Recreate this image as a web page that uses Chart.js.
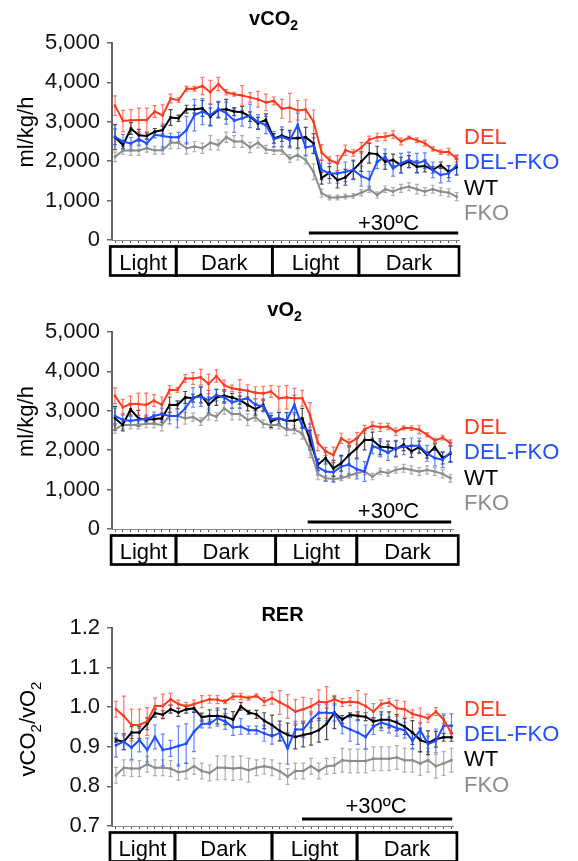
<!DOCTYPE html>
<html>
<head>
<meta charset="utf-8">
<script src="https://cdn.jsdelivr.net/npm/chart.js@4.4.1/dist/chart.umd.min.js"></script>
<style>
  body { margin: 0; background: #fff; }
  canvas { position: absolute; left: 0; }
</style>
</head>
<body>
<canvas id="vco2" width="578" height="290" style="top:0px"></canvas>
<canvas id="vo2" width="578" height="300" style="top:290px"></canvas>
<canvas id="rer" width="578" height="271" style="top:590px"></canvas>
<script>
// groupes et couleurs
const groups = ['DEL', 'DEL-FKO', 'WT', 'FKO'];
const colors = ['#ff3a1f', '#1f4eff', '#000000', '#8c8c8c'];

// périodes lumière / obscurité
const periods = ['Light', 'Dark', 'Light', 'Dark'];

// vCO2 (ml/kg/h)
const vco2DEL = [3410, 3020, 3040, 3045, 3045, 3260, 3160, 3590, 3550, 3840, 3840, 3910, 3750, 3960, 3750, 3700, 3670, 3620, 3570, 3490, 3530, 3330,
  3360, 3290, 3310, 3000, 2220, 2030, 1950, 2280, 2210, 2340, 2550, 2610, 2620, 2670, 2500, 2600, 2530, 2460, 2310, 2230, 2240, 2070];
const vco2DELFKO = [2620, 2500, 2450, 2560, 2450, 2670, 2640, 2610, 2610, 2790, 3170, 3260, 3170, 3320, 3220, 3030, 3090, 3150, 3000, 2920, 2560, 2620,
  2540, 2920, 2350, 2390, 1780, 1690, 1690, 1730, 1780, 1620, 1540, 1990, 2110, 1820, 1950, 2030, 1950, 2010, 1780, 1650, 1690, 1900];
const vco2WT = [2610, 2410, 2830, 2660, 2640, 2750, 2790, 3110, 3090, 3320, 3320, 3340, 3130, 3300, 3320, 3260, 3240, 3130, 2960, 3050, 2580, 2650,
  2580, 2580, 2610, 2450, 1570, 1710, 1520, 1590, 1780, 1990, 2200, 2180, 1990, 2030, 1900, 1990, 1860, 1880, 1780, 1900, 1730, 1850];
const vco2FKO = [2110, 2270, 2270, 2270, 2330, 2280, 2280, 2470, 2470, 2330, 2370, 2330, 2470, 2410, 2610, 2500, 2500, 2350, 2470, 2300, 2270, 2270,
  2070, 2160, 2030, 1730, 1190, 1080, 1080, 1100, 1120, 1200, 1290, 1140, 1290, 1230, 1310, 1350, 1290, 1230, 1290, 1230, 1200, 1100];
const vco2ErrDEL = [250, 270, 270, 300, 300, 150, 270, 110, 60, 60, 60, 220, 300, 170, 70, 50, 250, 120, 200, 210, 100, 240,
  360, 250, 250, 300, 200, 80, 190, 130, 80, 140, 85, 100, 100, 100, 85, 40, 60, 70, 55, 55, 85, 85];
const vco2ErrDELFKO = [200, 180, 150, 150, 120, 80, 300, 100, 120, 350, 400, 330, 280, 200, 280, 300, 200, 300, 180, 220, 200, 250,
  200, 300, 200, 200, 250, 250, 250, 250, 250, 250, 200, 180, 200, 200, 250, 200, 250, 200, 200, 200, 200, 250];
const vco2ErrWT = [320, 100, 150, 150, 80, 80, 100, 200, 80, 100, 100, 200, 220, 200, 250, 100, 150, 120, 150, 150, 120, 150,
  200, 250, 250, 250, 150, 150, 200, 200, 230, 250, 250, 200, 200, 150, 200, 150, 150, 150, 80, 80, 150, 200];
const vco2ErrFKO = [120, 100, 120, 120, 100, 100, 100, 150, 150, 150, 130, 130, 180, 130, 130, 150, 150, 130, 130, 100, 100, 100,
  100, 130, 100, 200, 100, 60, 60, 60, 60, 80, 80, 80, 80, 100, 100, 100, 120, 100, 100, 100, 100, 100];

// vO2 (ml/kg/h)
const vo2DEL = [3380, 3090, 3170, 3170, 3150, 3260, 3150, 3530, 3530, 3820, 3820, 3850, 3680, 3880, 3650, 3570, 3540, 3510, 3460, 3440, 3490, 3320, 3340, 3320,
  3320, 2890, 2190, 1970, 1880, 2300, 2180, 2300, 2530, 2620, 2580, 2600, 2470, 2570, 2560, 2520, 2390, 2250, 2320, 2180];
const vo2DELFKO = [2870, 2770, 2750, 2770, 2790, 2870, 2920, 2870, 2870, 3060, 3340, 3360, 3270, 3400, 3340, 3210, 3270, 3320, 3150, 3120, 2790, 2810, 2760, 3150,
  2600, 2470, 1570, 1460, 1440, 1590, 1630, 1520, 1460, 2110, 2030, 1940, 2050, 2090, 2110, 2110, 1920, 1800, 1760, 1940];
const vo2WT = [2810, 2640, 3040, 2810, 2770, 2790, 2810, 3150, 3150, 3340, 3320, 3400, 3150, 3340, 3380, 3340, 3270, 3150, 3040, 3150, 2730, 2810, 2750, 2750,
  2810, 2260, 1630, 1800, 1540, 1670, 1880, 2050, 2260, 2260, 2090, 2080, 2030, 2140, 1970, 2080, 1880, 2080, 1800, 1910];
const vo2FKO = [2530, 2640, 2640, 2640, 2670, 2670, 2640, 2870, 2870, 2810, 2840, 2730, 2920, 2850, 3060, 2920, 2920, 2770, 2840, 2670, 2640, 2640, 2520, 2520,
  2430, 2010, 1400, 1290, 1270, 1290, 1350, 1420, 1460, 1330, 1460, 1420, 1500, 1540, 1500, 1460, 1500, 1460, 1400, 1290];
const vo2ErrDEL = [200, 200, 200, 280, 300, 150, 200, 110, 60, 100, 150, 200, 250, 160, 130, 80, 250, 150, 150, 180, 150, 300,
  300, 250, 200, 320, 200, 100, 200, 130, 100, 150, 100, 100, 100, 80, 100, 50, 60, 100, 50, 50, 60, 80];
const vo2ErrDELFKO = [200, 150, 100, 100, 100, 100, 150, 200, 300, 250, 250, 250, 250, 150, 150, 150, 200, 200, 150, 150, 150, 150,
  200, 250, 200, 200, 200, 250, 250, 250, 250, 250, 250, 200, 200, 200, 200, 200, 200, 200, 200, 200, 200, 250];
const vo2ErrWT = [300, 150, 150, 200, 50, 100, 100, 200, 100, 150, 100, 200, 200, 200, 150, 100, 100, 150, 150, 150, 150, 150,
  200, 200, 250, 250, 150, 150, 200, 200, 230, 250, 250, 200, 200, 150, 200, 150, 150, 150, 80, 80, 150, 200];
const vo2ErrFKO = [100, 100, 100, 100, 100, 100, 150, 100, 100, 150, 100, 100, 150, 100, 150, 150, 150, 150, 100, 100, 100, 100,
  150, 100, 150, 200, 150, 60, 60, 60, 60, 80, 80, 80, 80, 80, 80, 100, 100, 100, 100, 100, 100, 100];

// RER (vCO2/vO2)
const rerDEL = [0.995, 0.978, 0.955, 0.955, 0.964, 1.003, 1.003, 1.020, 1.008, 1.002, 1.008, 1.014, 1.020, 1.019, 1.014, 1.027, 1.027, 1.023, 1.029, 1.014, 1.023, 1.012,
  1.002, 0.989, 0.995, 1.002, 1.014, 1.012, 1.020, 1.012, 1.014, 1.012, 1.003, 0.989, 1.008, 1.012, 0.997, 0.995, 0.983, 0.978, 0.972, 0.989, 0.969, 0.934];
const rerDELFKO = [0.904, 0.913, 0.898, 0.917, 0.892, 0.925, 0.892, 0.896, 0.902, 0.908, 0.938, 0.958, 0.958, 0.972, 0.964, 0.949, 0.951, 0.942, 0.942, 0.934, 0.927, 0.935,
  0.896, 0.944, 0.944, 0.968, 0.986, 0.986, 0.985, 0.953, 0.944, 0.936, 0.925, 0.951, 0.961, 0.955, 0.947, 0.942, 0.915, 0.942, 0.907, 0.915, 0.953, 0.953];
const rerWT = [0.917, 0.913, 0.936, 0.936, 0.958, 0.985, 0.981, 0.995, 0.987, 0.995, 0.997, 0.975, 0.978, 0.978, 0.976, 0.969, 1.002, 0.987, 0.982, 0.966, 0.955, 0.940,
  0.930, 0.925, 0.930, 0.934, 0.942, 0.958, 0.986, 0.969, 0.981, 0.978, 0.976, 0.964, 0.968, 0.968, 0.961, 0.951, 0.936, 0.917, 0.910, 0.919, 0.924, 0.924];
const rerFKO = [0.828, 0.847, 0.845, 0.845, 0.856, 0.847, 0.847, 0.845, 0.836, 0.839, 0.851, 0.839, 0.834, 0.847, 0.847, 0.845, 0.847, 0.841, 0.847, 0.851, 0.847, 0.838,
  0.825, 0.839, 0.839, 0.851, 0.839, 0.851, 0.853, 0.866, 0.864, 0.864, 0.864, 0.870, 0.870, 0.870, 0.873, 0.866, 0.866, 0.858, 0.866, 0.851, 0.858, 0.866];
const rerErrDEL = [0.02, 0.05, 0.04, 0.04, 0.035, 0.02, 0.03, 0.015, 0.01, 0.01, 0.01, 0.015, 0.01, 0.01, 0.005, 0.008, 0.008, 0.005, 0.005, 0.01, 0.015, 0.03,
  0.03, 0.03, 0.03, 0.02, 0.03, 0.04, 0.01, 0.01, 0.01, 0.03, 0.03, 0.02, 0.01, 0.01, 0.02, 0.02, 0.01, 0.02, 0.01, 0.01, 0.01, 0.02];
const rerErrDELFKO = [0.03, 0.02, 0.03, 0.03, 0.03, 0.03, 0.04, 0.02, 0.05, 0.05, 0.05, 0.01, 0.01, 0.02, 0.02, 0.02, 0.02, 0.01, 0.01, 0.02, 0.02, 0.02,
  0.04, 0.02, 0.02, 0.02, 0.02, 0.02, 0.02, 0.02, 0.03, 0.03, 0.03, 0.02, 0.02, 0.02, 0.02, 0.02, 0.02, 0.02, 0.02, 0.03, 0.03, 0.03];
const rerErrWT = [0.005, 0.02, 0.015, 0.015, 0.015, 0.01, 0.01, 0.01, 0.01, 0.01, 0.01, 0.01, 0.015, 0.02, 0.02, 0.02, 0.01, 0.005, 0.01, 0.02, 0.025, 0.025,
  0.03, 0.03, 0.03, 0.03, 0.03, 0.04, 0.04, 0.01, 0.005, 0.01, 0.01, 0.01, 0.02, 0.02, 0.02, 0.02, 0.03, 0.03, 0.03, 0.02, 0.01, 0.01];
const rerErrFKO = [0.02, 0.02, 0.02, 0.02, 0.02, 0.02, 0.02, 0.02, 0.02, 0.02, 0.02, 0.02, 0.02, 0.03, 0.03, 0.03, 0.03, 0.03, 0.02, 0.02, 0.02, 0.02,
  0.02, 0.02, 0.02, 0.02, 0.02, 0.02, 0.02, 0.03, 0.03, 0.03, 0.03, 0.03, 0.03, 0.03, 0.03, 0.03, 0.03, 0.03, 0.03, 0.03, 0.03, 0.03];

// index des points horaires
const hours = vco2DEL.map((_, i) => i);

const FONT = '"Liberation Sans", Arial, Helvetica, sans-serif';

// texte avec indices (ex: vCO2)
function richWidth(ctx, parts, size) {
  let w = 0;
  parts.forEach(([t, sub]) => {
    ctx.font = (sub ? Math.round(size * 0.68) : size) + 'px ' + FONT;
    w += ctx.measureText(t).width;
  });
  return w;
}
function drawRich(ctx, parts, size, x, y, weight) {
  let cx = x;
  parts.forEach(([t, sub]) => {
    ctx.font = weight + ' ' + (sub ? Math.round(size * 0.68) : size) + 'px ' + FONT;
    ctx.fillText(t, cx, sub ? y + size * 0.25 : y);
    cx += ctx.measureText(t).width;
  });
}

// Plugin : barres d'erreur, titres, légende, boîtes Light/Dark, +30ºC
const decoPlugin = {
  id: 'deco',
  beforeDatasetsDraw(chart) {
    const { ctx, scales: { x, y } } = chart;
    ctx.save();
    ctx.lineWidth = 1.2;
    chart.data.datasets.slice().reverse().forEach(ds => {
      ctx.strokeStyle = ds.borderColor;
      ctx.globalAlpha = 0.7;
      ds.data.forEach((v, i) => {
        const px = x.getPixelForValue(hours[i]);
        const t = y.getPixelForValue(v + ds.err[i]);
        const b = y.getPixelForValue(v - ds.err[i]);
        ctx.beginPath();
        ctx.moveTo(px, t); ctx.lineTo(px, b);
        ctx.moveTo(px - 2, t); ctx.lineTo(px + 2, t);
        ctx.moveTo(px - 2, b); ctx.lineTo(px + 2, b);
        ctx.stroke();
      });
    });
    ctx.restore();
  },
  afterDraw(chart, args, o) {
    const { ctx, chartArea, scales: { x } } = chart;
    ctx.save();
    ctx.fillStyle = '#000';
    ctx.textBaseline = 'alphabetic';
    ctx.textAlign = 'left';

    // titre
    const tw = richWidth(ctx, o.title, 20);
    drawRich(ctx, o.title, 20, o.titleX - tw / 2, o.titleY, 'bold');

    // titre axe Y (vertical)
    ctx.save();
    ctx.translate(o.yTitleX, o.yTitleY);
    ctx.rotate(-Math.PI / 2);
    const yw = richWidth(ctx, o.yTitle, 22);
    drawRich(ctx, o.yTitle, 22, -yw / 2, 0, 'normal');
    ctx.restore();

    // légende
    ctx.font = '22px ' + FONT;
    groups.forEach((g, k) => {
      ctx.fillStyle = colors[k];
      ctx.fillText(g, 464, o.legendY + k * 25.4 + 8);
    });

    // +30ºC
    const hx0 = x.getPixelForValue(o.heatFrom);
    const hx1 = x.getPixelForValue(o.heatTo);
    const hy = chartArea.bottom - 7;
    ctx.strokeStyle = '#000';
    ctx.lineWidth = 3;
    ctx.beginPath();
    ctx.moveTo(hx0, hy); ctx.lineTo(hx1, hy);
    ctx.stroke();
    ctx.fillStyle = '#000';
    ctx.textAlign = 'center';
    ctx.fillText('+30ºC', (hx0 + hx1) / 2 + o.heatShift, chartArea.bottom - o.heatText);

    // boîtes Light / Dark
    const top = chartArea.bottom + 6.5;
    ctx.lineWidth = 2.7;
    periods.forEach((p, k) => {
      const a = x.getPixelForValue(o.edges[k]);
      const b = x.getPixelForValue(o.edges[k + 1]);
      ctx.strokeRect(a, top, b - a, 29);
      ctx.fillText(p, (a + b) / 2, top + 23);
    });
    ctx.restore();
  }
};

function panel(id, series, errs, yOpts, deco, pad) {
  return new Chart(document.getElementById(id), {
    type: 'line',
    data: {
      labels: hours,
      datasets: groups.map((g, k) => ({
        label: g,
        data: series[k],
        err: errs[k],
        borderColor: colors[k],
        backgroundColor: colors[k],
        borderWidth: 2,
        pointStyle: 'rect',
        pointRadius: 1.8,
        pointBorderWidth: 0,
        tension: 0
      }))
    },
    options: {
      responsive: false,
      animation: false,
      layout: { padding: { top: pad.top, bottom: pad.bottom, left: 0, right: pad.right } },
      scales: {
        x: {
          type: 'linear',
          min: pad.xmin,
          max: pad.xmax,
          afterBuildTicks: s => { s.ticks = hours.map(v => ({ value: v })); },
          afterFit: s => { s.height = 4; },
          ticks: { display: false },
          grid: { drawOnChartArea: false, tickLength: 3, color: '#555', lineWidth: 1 },
          border: { color: '#888', width: 1 }
        },
        y: {
          min: yOpts.min,
          max: yOpts.max,
          afterFit: s => { s.width = 112; },
          ticks: {
            stepSize: yOpts.step,
            color: '#111',
            padding: 7,
            font: { size: 22, family: FONT },
            callback: yOpts.fmt
          },
          grid: { drawOnChartArea: false, tickLength: 5, color: '#666', lineWidth: 1.5 },
          border: { color: '#666', width: 2 }
        }
      },
      plugins: {
        legend: { display: false },
        tooltip: { enabled: false },
        deco: deco
      }
    },
    plugins: [decoPlugin]
  });
}

const fmtThousands = v => v.toLocaleString('en-US');

panel('vco2',
  [vco2DEL, vco2DELFKO, vco2WT, vco2FKO],
  [vco2ErrDEL, vco2ErrDELFKO, vco2ErrWT, vco2ErrFKO],
  { min: 0, max: 5000, step: 1000, fmt: fmtThousands },
  { title: [['vCO', 0], ['2', 1]], titleX: 273, titleY: 25,
    yTitle: [['ml/kg/h', 0]], yTitleX: 33, yTitleY: 132,
    legendY: 136, heatFrom: 24.4, heatTo: 43.2, heatText: 10, heatShift: 5,
    edges: [-0.6, 7.7, 19.8, 30.7, 43.3] },
  { top: 43, bottom: 46, right: 119, xmin: -0.38, xmax: 43.3 });

panel('vo2',
  [vo2DEL, vo2DELFKO, vo2WT, vo2FKO],
  [vo2ErrDEL, vo2ErrDELFKO, vo2ErrWT, vo2ErrFKO],
  { min: 0, max: 5000, step: 1000, fmt: fmtThousands },
  { title: [['vO', 0], ['2', 1]], titleX: 284, titleY: 26,
    yTitle: [['ml/kg/h', 0]], yTitleX: 33, yTitleY: 131.5,
    legendY: 136, heatFrom: 24.7, heatTo: 43.1, heatText: 11, heatShift: 9,
    edges: [-0.5, 7.82, 20.6, 31.0, 44.0] },
  { top: 42, bottom: 57, right: 125, xmin: -0.385, xmax: 43.33 });

panel('rer',
  [rerDEL, rerDELFKO, rerWT, rerFKO],
  [rerErrDEL, rerErrDELFKO, rerErrWT, rerErrFKO],
  { min: 0.7, max: 1.2, step: 0.1, fmt: v => v.toFixed(1) },
  { title: [['RER', 0]], titleX: 282.5, titleY: 31,
    yTitle: [['vCO', 0], ['2', 1], ['/vO', 0], ['2', 1]], yTitleX: 35, yTitleY: 139,
    legendY: 117.5, heatFrom: 23.85, heatTo: 43.1, heatText: 13, heatShift: -1,
    edges: [-0.77, 7.56, 20.0, 30.9, 43.7] },
  { top: 38, bottom: 31, right: 125, xmin: -0.51, xmax: 43.2 });
</script>
</body>
</html>
